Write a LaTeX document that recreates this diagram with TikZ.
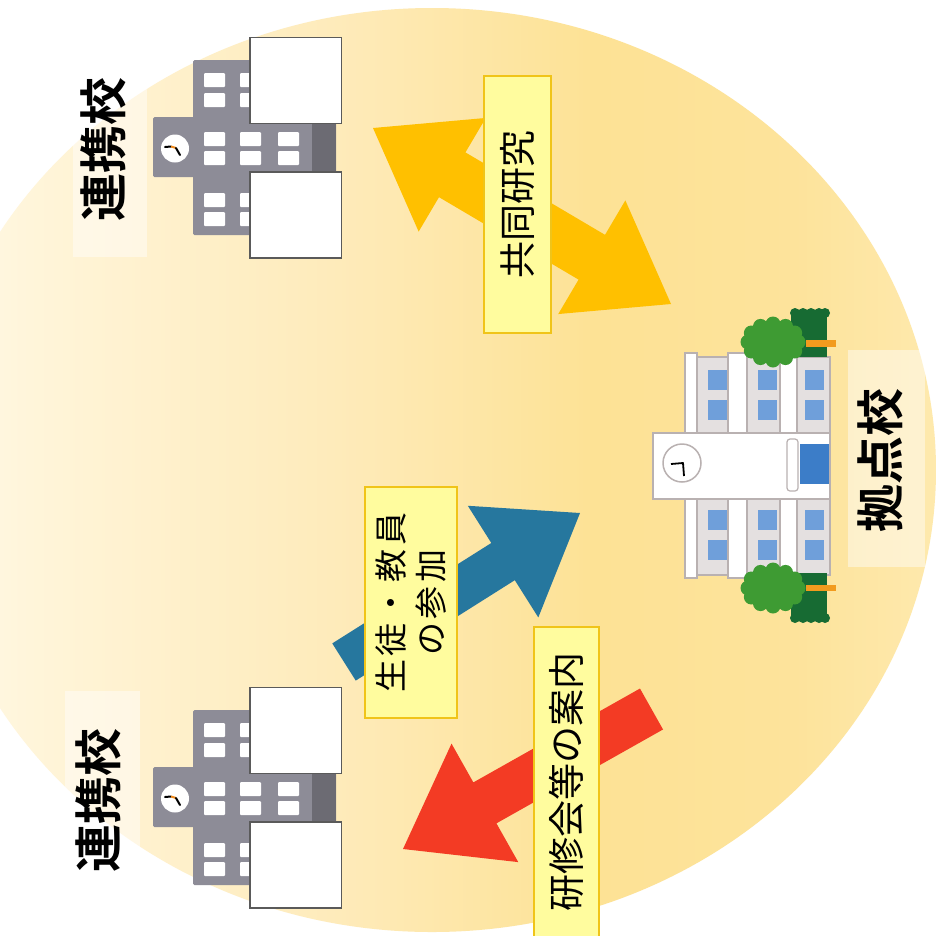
\documentclass[tikz,border=0pt]{standalone}
\usepackage{fontspec}
\newfontfamily\jp{Noto Sans CJK JP}[BoldFont={Noto Sans CJK JP Bold}]
\usetikzlibrary{calc}

% palette
\definecolor{bgA}{HTML}{FFF9E8}
\definecolor{bgB}{HTML}{FFF5DA}
\definecolor{bgC}{HTML}{FEEBBB}
\definecolor{bgD}{HTML}{FDE295}
\definecolor{bgE}{HTML}{FDE39B}
\definecolor{bgF}{HTML}{FEE9AD}
\definecolor{arrowYellow}{HTML}{FFC000}
\definecolor{arrowBlue}{HTML}{26779E}
\definecolor{arrowRed}{HTML}{F33B24}
\definecolor{boxFill}{HTML}{FFFC9E}
\definecolor{boxLine}{HTML}{F0C419}
\definecolor{bldGray}{HTML}{8D8C97}
\definecolor{bldDark}{HTML}{6C6B73}
\definecolor{bldEdge}{HTML}{5A5A5A}
\definecolor{panel}{HTML}{E4E0E0}
\definecolor{panelEdge}{HTML}{B9B1B1}
\definecolor{winBlue}{HTML}{6F9FDA}
\definecolor{doorBlue}{HTML}{3C7DC8}
\definecolor{leafLight}{HTML}{3E9B33}
\definecolor{leafDark}{HTML}{176B33}
\definecolor{trunkOrange}{HTML}{F29B1E}
\definecolor{clockOrange}{HTML}{F08A1C}

% soft cream-to-yellow wash across the disc
\pgfdeclarehorizontalshading{discwash}{100bp}{%
  color(0bp)=(bgA); color(25bp)=(bgA); color(30bp)=(bgB); color(45bp)=(bgC);
  color(58bp)=(bgD); color(68bp)=(bgE); color(75bp)=(bgF); color(100bp)=(bgF)}

% block arrow with one head: style, tail, tip, head length, shaft half width, head half width
\newcommand\blockarrowone[6]{%
  \coordinate (#2-neck) at ($(#3)!#4!(#2)$);
  \fill[#1] ($(#2)!#5!90:(#3)$) -- ($(#2-neck)!#5!90:(#3)$) -- ($(#2-neck)!#6!90:(#3)$)
    -- (#3) -- ($(#2-neck)!#6!-90:(#3)$) -- ($(#2-neck)!#5!-90:(#3)$)
    -- ($(#2)!#5!-90:(#3)$) -- cycle;}

% block arrow with a head at both ends
\newcommand\blockarrowtwo[6]{%
  \coordinate (#2-neck) at ($(#2)!#4!(#3)$);
  \coordinate (#3-neck) at ($(#3)!#4!(#2)$);
  \fill[#1] (#2) -- ($(#2-neck)!#6!90:(#3)$) -- ($(#2-neck)!#5!90:(#3)$)
    -- ($(#3-neck)!#5!90:(#3)$) -- ($(#3-neck)!#6!90:(#3)$) -- (#3)
    -- ($(#3-neck)!#6!-90:(#3)$) -- ($(#3-neck)!#5!-90:(#3)$)
    -- ($(#2-neck)!#5!-90:(#3)$) -- ($(#2-neck)!#6!-90:(#3)$) -- cycle;}

\tikzset{
  tagbox/.style={draw=boxLine, fill=boxFill, line width=1.8pt, rotate=90,
    inner sep=0pt, text=black, font=\jp\fontsize{37}{40}\selectfont},
  schoollabel/.style={rotate=90, inner sep=0pt, text=black,
    font=\jp\bfseries\fontsize{48}{48}\selectfont},
  backdrop/.style={fill=white, opacity=0.45},
  winwhite/.style={fill=white, rounded corners=1pt},
  pillar/.style={fill=white, draw=panelEdge, line width=1.2pt},
  partnerschool/.pic={
    % grey body and cross wing
    \fill[bldGray, rounded corners=1.5pt] (193,60) rectangle (300,235);
    \fill[bldGray, rounded corners=1.5pt] (153,117) rectangle (336,177);
    \fill[bldDark] (312,124) rectangle (336,172);
    % windows
    \foreach \xa in {204,240} {
      \foreach \ya in {73,93,193,212}
        \fill[winwhite] (\xa,\ya) rectangle (\xa+21,\ya+14);
    }
    \foreach \xa in {204,240,278} {
      \foreach \ya in {132,151}
        \fill[winwhite] (\xa,\ya) rectangle (\xa+21,\ya+14);
    }
    % clock
    \fill[white] (175,148.5) circle (14pt);
    \draw[black, line width=2pt, line cap=round] (165,147) -- (171,146.5);
    \draw[clockOrange, line width=2pt] (171,146.5) -- (176,148);
    \draw[black, line width=2pt, line cap=round] (176,148) -- (180,155);
    % two white blocks in front
    \filldraw[fill=white, draw=bldEdge, line width=1.5pt] (250,37.5) rectangle (341.5,123.5);
    \filldraw[fill=white, draw=bldEdge, line width=1.5pt] (250,172) rectangle (341.5,258);
  }
}

\begin{document}
\begin{tikzpicture}[x=1pt,y=-1pt]
  \clip (0,0) rectangle (944,935);
  \fill[white] (0,0) rectangle (944,935);
  \shade[shading=discwash] (432,470) ellipse [x radius=504pt, y radius=462pt];

  % pale panels behind the school names
  \fill[backdrop] (73,60) rectangle (147,257);
  \fill[backdrop] (65,691) rectangle (140,881);
  \fill[backdrop] (848,350) rectangle (925,567);

  % partner schools
  \pic (upper) at (0,0) {partnerschool};
  \pic (lower) at (0,650) {partnerschool};

  % hub school: wings
  \foreach \ya/\yb in {357/433, 499/575} {
    \filldraw[fill=panel, draw=panelEdge, line width=1.2pt] (697,\ya) rectangle (830,\yb);
  }
  \foreach \xa/\xb in {685/697, 728/747, 780/797} {
    \filldraw[pillar] (\xa,353) rectangle (\xb,433);
    \filldraw[pillar] (\xa,499) rectangle (\xb,578);
  }
  \foreach \xa in {708,758,805} {
    \foreach \ya in {370,400,510,540}
      \fill[winBlue] (\xa,\ya) rectangle (\xa+19,\ya+20);
  }
  % hub school: entrance block
  \filldraw[fill=white, draw=panelEdge, line width=1.2pt] (653,433) rectangle (830,499);
  \filldraw[fill=white, draw=panelEdge, line width=1.5pt] (682,463) circle (19pt);
  \draw[black, line width=1.8pt, line join=round] (671,464) -- (683,463) -- (684,476);
  \filldraw[fill=white, draw=panelEdge, line width=1.2pt, rounded corners=3pt] (787,439) rectangle (798,491);
  \fill[doorBlue] (800,444) rectangle (829,484);

  % hub school: trees
  \fill[leafDark] (791,314) rectangle (827,357);
  \foreach \xa in {795,803,811,819,825}
    \fill[leafDark] (\xa,313) circle (5pt);
  \fill[trunkOrange] (806,340) rectangle (836,347);
  \fill[leafLight] (773,342) ellipse [x radius=25pt, y radius=19pt];
  \foreach \a in {0,30,...,330}
    \fill[leafLight] ($(773,342)+(\a:25pt and 18pt)$) circle (7.5pt);

  \fill[leafDark] (791,573) rectangle (827,617);
  \foreach \xa in {795,803,811,819,825}
    \fill[leafDark] (\xa,618) circle (5pt);
  \fill[trunkOrange] (806,585) rectangle (836,591);
  \fill[leafLight] (773,588) ellipse [x radius=25pt, y radius=19pt];
  \foreach \a in {0,30,...,330}
    \fill[leafLight] ($(773,588)+(\a:25pt and 18pt)$) circle (7.5pt);

  % arrows
  \coordinate (joint-a) at (373,128);
  \coordinate (joint-b) at (671,304);
  \coordinate (join-tail) at (344,662);
  \coordinate (join-tip) at (580,513);
  \coordinate (info-tail) at (651.5,709);
  \coordinate (info-tip) at (403,849);
  \blockarrowtwo{arrowYellow}{joint-a}{joint-b}{92pt}{26pt}{66pt}
  \blockarrowone{arrowBlue}{join-tail}{join-tip}{91pt}{22pt}{66pt}
  \blockarrowone{arrowRed}{info-tail}{info-tip}{94pt}{23.5pt}{68pt}

  % captions on the arrows
  \node[tagbox, minimum width=257pt, minimum height=67pt] (kyodo) at (517.5,204.5) {共同研究};
  \node[tagbox, minimum width=231pt, minimum height=92pt, align=center,
        font=\jp\fontsize{33}{39.5}\addfontfeatures{LetterSpace=12}\selectfont] (sanka) at (411,602.5) {生徒・教員\\の参加};
  \node[tagbox, minimum width=310pt, minimum height=65pt] (annai) at (566.5,782) {研修会等の案内};

  % school names
  \node[schoollabel] (renkei-upper) at (103.5,149.5) {連携校};
  \node[schoollabel] (renkei-lower) at (98.5,800.5) {連携校};
  \node[schoollabel] (kyoten) at (880.5,460.5) {拠点校};
\end{tikzpicture}
\end{document}
